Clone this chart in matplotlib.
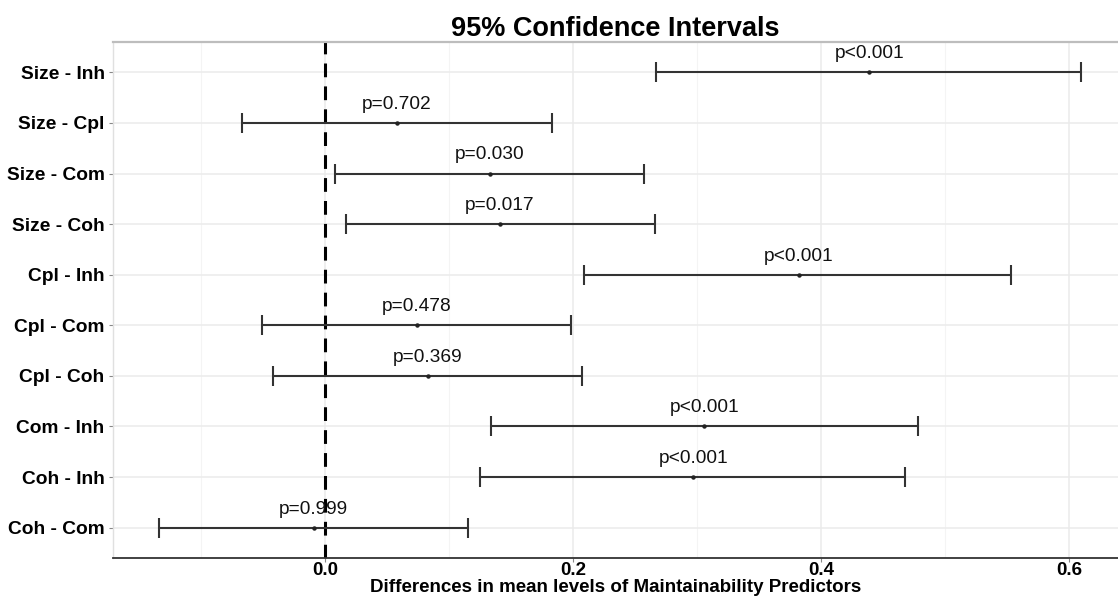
import matplotlib
matplotlib.use("Agg")
import matplotlib.pyplot as plt
from matplotlib.ticker import MultipleLocator

plt.rcParams['font.family'] = ['Liberation Sans', 'DejaVu Sans']

# comparisons, top to bottom
comparisons = ["Size - Inh", "Size - Cpl", "Size - Com", "Size - Coh", "Cpl - Inh",
               "Cpl - Com", "Cpl - Coh", "Com - Inh", "Coh - Inh", "Coh - Com"]
diff = [0.439, 0.058, 0.133, 0.141, 0.382, 0.074, 0.083, 0.306, 0.297, -0.009]
lower = [0.267, -0.067, 0.008, 0.017, 0.209, -0.051, -0.042, 0.134, 0.125, -0.134]
upper = [0.610, 0.183, 0.257, 0.266, 0.553, 0.198, 0.207, 0.478, 0.468, 0.115]
p_labels = ["p<0.001", "p=0.702", "p=0.030", "p=0.017", "p<0.001",
            "p=0.478", "p=0.369", "p<0.001", "p<0.001", "p=0.999"]

n = len(comparisons)
ypos = [n - i for i in range(n)]

fig = plt.figure(figsize=(11.18, 6), dpi=100)
ax = fig.add_axes([0.101, 0.07, 0.899, 0.86])

# grid
ax.set_axisbelow(True)
ax.xaxis.set_major_locator(MultipleLocator(0.2))
ax.xaxis.set_minor_locator(MultipleLocator(0.1))
ax.grid(which='major', axis='both', color='#ebebeb', linewidth=1.1)
ax.grid(which='minor', axis='x', color='#f4f4f4', linewidth=0.8)

ax.axvline(0, color='black', linewidth=2.2, linestyle=(0, (4.5, 3)), zorder=1)

xerr = [[d - lo for d, lo in zip(diff, lower)], [hi - d for d, hi in zip(diff, upper)]]
ax.errorbar(diff, ypos, xerr=xerr, fmt='o', color='#222222', ecolor='#333333',
            markersize=2.2, elinewidth=1.5, capsize=7, capthick=1.5, zorder=3)

for d, y, lab in zip(diff, ypos, p_labels):
    ax.text(d, y + 0.2, lab, ha='center', va='bottom', fontsize=13.8, color='#111111')

ax.set_yticks(ypos)
ax.set_yticklabels(comparisons, fontsize=13.8, fontweight='bold')
ax.set_xlim(-0.171, 0.6395)
ax.set_ylim(0.4, n + 0.6)
ax.xaxis.set_major_formatter(matplotlib.ticker.FormatStrFormatter('%.1f'))
for lab in ax.get_xticklabels():
    lab.set_fontweight('bold')
    lab.set_fontsize(13.5)

ax.tick_params(axis='y', which='major', length=3, color='#888888', pad=3)
ax.tick_params(axis='x', which='major', length=3, color='#888888', pad=0)
ax.tick_params(axis='x', which='minor', length=0)

ax.spines['top'].set_color('#bdbdbd')
ax.spines['top'].set_linewidth(1.6)
ax.spines['left'].set_color('#e0e0e0')
ax.spines['left'].set_linewidth(1.0)
ax.spines['right'].set_visible(False)
ax.spines['bottom'].set_color('#333333')
ax.spines['bottom'].set_linewidth(1.3)

ax.set_xlabel("Differences in mean levels of Maintainability Predictors",
              fontsize=13.5, fontweight='bold', labelpad=0)
ax.set_title("95% Confidence Intervals", fontsize=19.5, fontweight='bold', pad=3)

fig.savefig("out.png", dpi=100)
